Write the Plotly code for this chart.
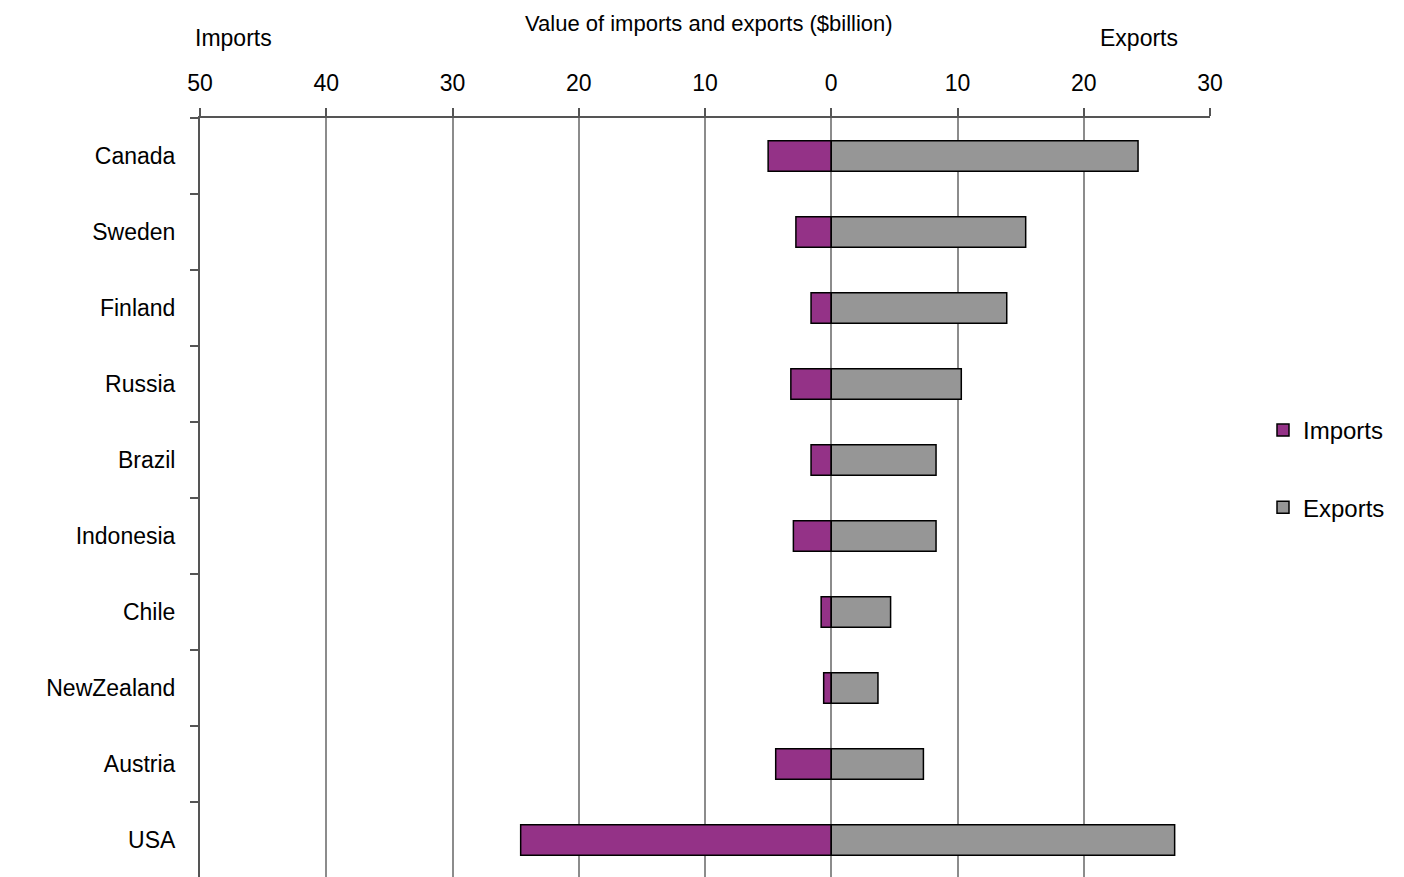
import plotly.graph_objects as go

countries = ["Canada", "Sweden", "Finland", "Russia", "Brazil", "Indonesia",
             "Chile", "NewZealand", "Austria", "USA"]
imports = [5.0, 2.8, 1.6, 3.2, 1.6, 3.0, 0.8, 0.6, 4.4, 24.6]
exports = [24.3, 15.4, 13.9, 10.3, 8.3, 8.3, 4.7, 3.7, 7.3, 27.2]

tick_vals = [-50, -40, -30, -20, -10, 0, 10, 20, 30]
tick_text = ["50", "40", "30", "20", "10", "0", "10", "20", "30"]

FONT = "Liberation Sans, Arial, sans-serif"
OFF = 7  # page offset of the figure inside the browser

W, H = 1404, 877
# target plot area in page pixels: x 199..1209, y 117..877
l = 199 - OFF
t = 117 - OFF
pw, ph = 1010, 760
r = W - l - pw
b = H - t - ph

fig = go.Figure()
fig.add_trace(go.Bar(
    y=countries, x=[-v for v in imports], orientation="h", name="Imports",
    marker=dict(color="#943287", line=dict(color="#000000", width=1.5)),
    legendgroup="a",
))
fig.add_trace(go.Bar(
    y=countries, x=exports, orientation="h", name="Exports",
    marker=dict(color="#969696", line=dict(color="#000000", width=1.5)),
    legendgroup="b",
))


def px_to_paper(px, py):
    return (px - OFF - l) / pw, 1 + (t - (py - OFF)) / ph


ann = []
for text, px, py, size in [
    ("Value of imports and exports ($billion)", 708, 22, 22),
    ("Imports", 232, 37, 23),
    ("Exports", 1138, 37, 23),
]:
    x, y = px_to_paper(px, py)
    ann.append(dict(text=text, xref="paper", yref="paper", x=x, y=y,
                    xanchor="center", yanchor="middle", showarrow=False,
                    font=dict(size=size, family=FONT, color="#000000")))

lx, ly = px_to_paper(1262, 407)

fig.update_layout(
    width=W, height=H,
    margin=dict(l=l, r=r, t=t, b=b),
    paper_bgcolor="white", plot_bgcolor="white",
    barmode="relative", bargap=0.6,
    font=dict(family=FONT, size=22, color="#000000"),
    showlegend=True,
    legend=dict(x=lx, y=ly, xanchor="left", yanchor="top",
                tracegroupgap=43, font=dict(size=24),
                traceorder="grouped", itemwidth=30),
    xaxis=dict(
        side="top", range=[-50, 30], tickvals=tick_vals, ticktext=tick_text,
        showgrid=True, gridcolor="#8c8c8c", gridwidth=1.5,
        showline=True, linecolor="#555555", linewidth=2,
        ticks="outside", ticklen=8, tickcolor="#555555", tickwidth=1.5,
        zeroline=False, tickfont=dict(size=23), ticklabelstandoff=8,
    ),
    yaxis=dict(
        autorange="reversed", showgrid=False,
        showline=True, linecolor="#555555", linewidth=2,
        ticks="outside", tickson="boundaries", ticklen=8,
        tickcolor="#555555", tickwidth=1.5, ticklabelstandoff=18,
        tickfont=dict(size=23),
    ),
    annotations=ann,
)

fig.write_html("out.html")
